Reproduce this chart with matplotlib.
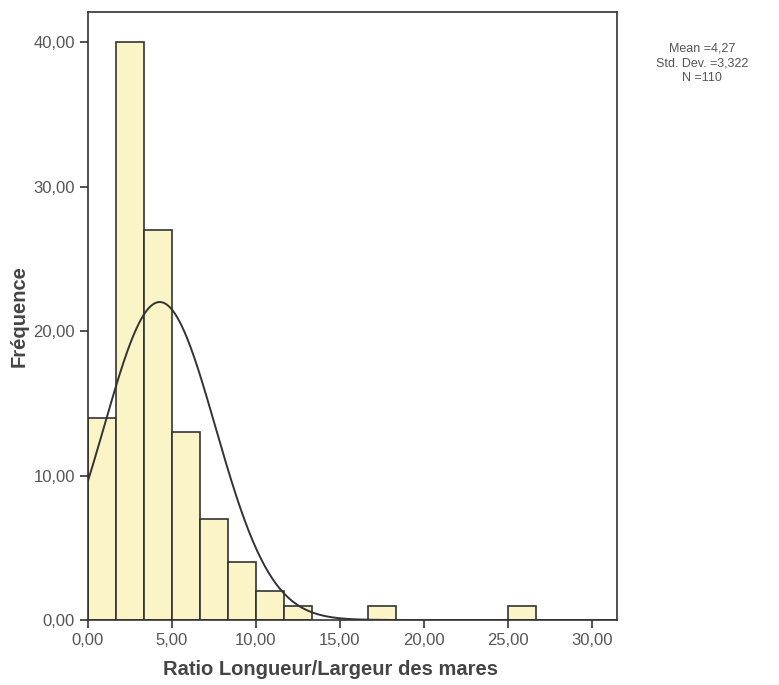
import numpy as np
import matplotlib
matplotlib.use("Agg")
import matplotlib.pyplot as plt

plt.rcParams['font.family'] = ['Liberation Sans', 'DejaVu Sans']

# histogram counts (bin width 1.667, starting at 0)
bin_width = 5.0 / 3.0
counts = [14, 40, 27, 13, 7, 4, 2, 1, 0, 0, 1, 0, 0, 0, 0, 1]
mean = 4.27
std = 3.322
n = 110

x_ticks = [0, 5, 10, 15, 20, 25, 30]
y_ticks = [0, 10, 20, 30, 40]

fig = plt.figure(figsize=(7.79, 6.85), dpi=100)
ax = fig.add_axes([88 / 779, 1 - 620 / 685, (617 - 88) / 779, (620 - 12) / 685])

edges = np.arange(len(counts)) * bin_width
for left, c in zip(edges, counts):
    if c > 0:
        ax.bar(left, c, width=bin_width, align="edge", color="#faf4c6",
               edgecolor="#333333", linewidth=1.2, zorder=2)

# fitted normal curve
xs = np.linspace(0, 31.5, 400)
ys = n * bin_width * np.exp(-(xs - mean) ** 2 / (2 * std ** 2)) / (std * np.sqrt(2 * np.pi))
ax.plot(xs, ys, color="#333333", linewidth=1.4, zorder=3)

ax.set_xlim(0, 31.5)
ax.set_ylim(0, 42.1)
ax.set_xticks(x_ticks)
ax.set_xticklabels([("%.2f" % v).replace(".", ",") for v in x_ticks])
ax.set_yticks(y_ticks)
ax.set_yticklabels([("%.2f" % v).replace(".", ",") for v in y_ticks])
ax.tick_params(direction="out", length=6, width=1.2, color="#333333",
               labelsize=12, labelcolor="#555555")
for s in ax.spines.values():
    s.set_color("#333333")
    s.set_linewidth(1.2)

ax.set_xlabel("Ratio Longueur/Largeur des mares", fontsize=14.5, fontweight="bold",
              color="#444444")
ax.xaxis.set_label_coords(0.459, -0.065)
ax.set_ylabel("Fréquence", fontsize=14.5, fontweight="bold", color="#444444")
ax.yaxis.set_label_coords(-0.113, 0.5)

fig.text(702 / 779, 1 - 63 / 685, "Mean =4,27\nStd. Dev. =3,322\nN =110",
         ha="center", va="center", fontsize=9, color="#555555", linespacing=1.3)

fig.savefig("out.png", dpi=100)
